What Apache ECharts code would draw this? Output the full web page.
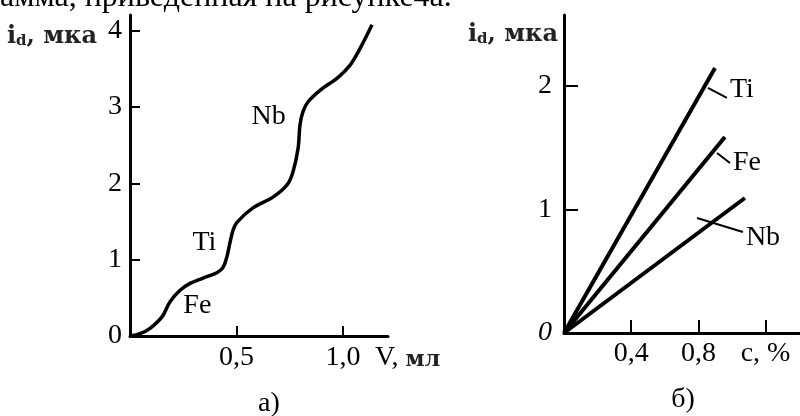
<!DOCTYPE html>
<html><head><meta charset="utf-8">
<script src="https://cdn.jsdelivr.net/npm/echarts@6/dist/echarts.min.js"></script>
<style>html,body{margin:0;padding:0;background:#fff}#c{width:800px;height:416px}</style>
</head><body><div id="c"></div>
<script>
// (a) titration curve: V, мл vs i_d, мка
const titrationCurve = [[0,0],[0.047,0.03],[0.094,0.10],[0.150,0.25],[0.188,0.45],[0.235,0.60],[0.282,0.69],[0.343,0.76],[0.408,0.83],[0.437,0.90],[0.455,1.04],[0.469,1.22],[0.484,1.39],[0.502,1.49],[0.577,1.68],[0.671,1.82],[0.737,1.98],[0.765,2.15],[0.789,2.46],[0.798,2.77],[0.812,2.94],[0.836,3.07],[0.892,3.22],[0.977,3.39],[1.033,3.55],[1.080,3.77],[1.136,4.08]];
const titrationNotes = [['Fe',0.316,0.40],['Ti',0.349,1.23],['Nb',0.651,2.88]];
const leftYTicks = [0,1,2,3,4];
const leftXTicks = [0.5,1.0];
// (b) calibration lines: c, % vs i_d, мка
const calibElements = ['Ti','Fe','Nb'];
const calibEnds = [[0.899,2.146],[0.958,1.587],[1.077,1.093]];
const calibLeaders = [[[0.857,1.984],[0.970,1.903]],[[0.911,1.457],[0.988,1.377]],[[0.792,0.931],[1.065,0.818]]];
const rightYTicks = [0,1,2];
const rightXTicks = [0.4,0.8,1.2];
const rightXLabels = ['0,4','0,8','c, %'];

const SERIF = 'Liberation Serif';
const BLK = '#000';
const chart = echarts.init(document.getElementById('c'), null, {renderer:'canvas'});

function yName(padRight, gap){
  return {
    name: 'i{sub|d}, мка', nameLocation:'end', nameGap:gap,
    nameTextStyle:{align:'right', verticalAlign:'middle', padding:[0,padRight,0,0],
      fontFamily:'DejaVu Serif', fontWeight:'bold', fontSize:24, color:'#222',
      rich:{sub:{fontFamily:'DejaVu Serif', fontWeight:'bold', fontSize:15, color:'#222', padding:[8,0,0,0]}}}
  };
}
const labelFont = {fontSize:28, fontFamily:SERIF, color:'#000', textBorderWidth:0};
const axLine = {onZero:false, lineStyle:{color:BLK, width:3}};

const series = [];
series.push({type:'line', xAxisIndex:0, yAxisIndex:0, data:titrationCurve, smooth:0.35, showSymbol:false,
  lineStyle:{color:BLK, width:3.5}, z:3});
series.push({type:'scatter', xAxisIndex:0, yAxisIndex:0, symbolSize:0, silent:true,
  data:titrationNotes.map(n=>[n[1],n[2],n[0]]),
  itemStyle:{color:'#000', opacity:1},
  label:Object.assign({show:true, position:'inside', formatter:p=>p.value[2]}, labelFont)});
calibElements.forEach((el,i)=>{
  series.push({type:'line', name:el, xAxisIndex:1, yAxisIndex:1, data:[[0,0],calibEnds[i]], showSymbol:false,
    lineStyle:{color:BLK, width:4}});
});
const offs = [[0,-8],[0,0],[0,6]];
calibElements.forEach((el,i)=>{
  series.push({type:'line', name:el, xAxisIndex:1, yAxisIndex:1, data:calibLeaders[i], showSymbol:false,
    lineStyle:{color:BLK, width:2},
    endLabel:Object.assign({show:true, formatter:'{a}', distance:3, offset:offs[i]}, labelFont)});
});

chart.setOption({
  animation:false,
  backgroundColor:'#fff',
  grid:[{left:130, top:15, width:258, height:321},{left:564, top:15, width:236, height:318}],
  xAxis:[
    {gridIndex:0, type:'value', min:0, max:1.211, axisLine:axLine,
      axisTick:{inside:true, length:10, customValues:leftXTicks, lineStyle:{color:BLK,width:2}},
      axisLabel:Object.assign({customValues:leftXTicks, margin:8, formatter:v=>v.toFixed(1).replace('.',',')}, labelFont),
      splitLine:{show:false},
      name:'{v|V,} {m|мл}', nameLocation:'end', nameGap:-13,
      nameTextStyle:Object.assign({align:'left', verticalAlign:'top', padding:[8,0,0,0],
        rich:{v:{fontSize:28, fontFamily:SERIF, color:'#000'},
              m:{fontSize:22, fontFamily:'DejaVu Serif', fontWeight:'bold', color:'#222', padding:[4,0,0,0]}}}, labelFont)},
    {gridIndex:1, type:'value', min:0, max:1.405, axisLine:axLine,
      axisTick:{inside:true, length:13, customValues:rightXTicks, lineStyle:{color:BLK,width:2}},
      axisLabel:Object.assign({customValues:rightXTicks, margin:7,
        formatter:v=>rightXLabels[rightXTicks.findIndex(t=>Math.abs(t-v)<1e-6)]}, labelFont),
      splitLine:{show:false}}
  ],
  yAxis:[
    Object.assign({gridIndex:0, type:'value', min:0, max:4.207, axisLine:axLine,
      axisTick:{inside:true, length:10, customValues:leftYTicks.filter(v=>v>0), lineStyle:{color:BLK,width:2}},
      axisLabel:Object.assign({customValues:leftYTicks, margin:8}, labelFont),
      splitLine:{show:false}}, yName(33,-22)),
    Object.assign({gridIndex:1, type:'value', min:0, max:2.575, axisLine:axLine,
      axisTick:{inside:true, length:14, customValues:rightYTicks.filter(v=>v>0), lineStyle:{color:BLK,width:2}},
      axisLabel:Object.assign({customValues:rightYTicks, margin:12,
        formatter:v=>v===0?'{i|0}':String(v),
        rich:{i:{fontStyle:'italic', fontSize:28, fontFamily:SERIF, color:'#000'}}}, labelFont),
      splitLine:{show:false}}, yName(6,-20))
  ],
  graphic:[
    {type:'text', left:0, top:-18, style:{text:'амма, приведенная на рисунке4а.', font:'32px "Liberation Serif"', fill:'#000'}},
    {type:'text', x:269, y:404, style:{text:'а)', font:'28px "Liberation Serif"', fill:'#000', align:'center', verticalAlign:'middle'}},
    {type:'text', x:683, y:400, style:{text:'б)', font:'28px "Liberation Serif"', fill:'#000', align:'center', verticalAlign:'middle'}}
  ],
  series:series
});
</script></body></html>
